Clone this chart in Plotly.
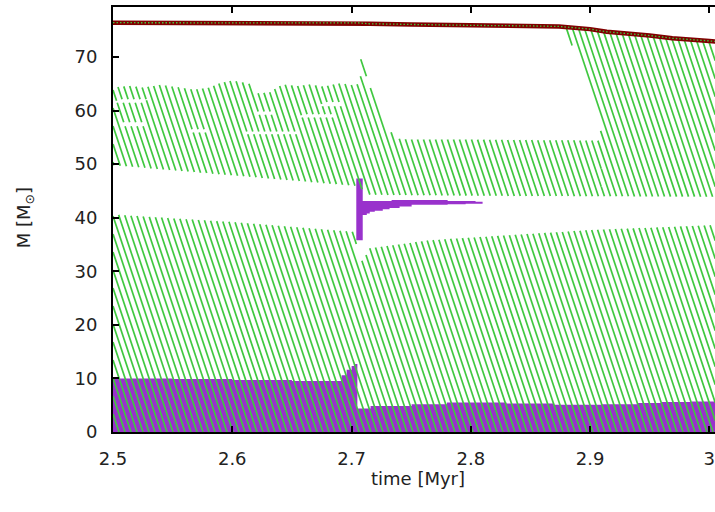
import numpy as np
import plotly.graph_objects as go

# ---- data: time in Myr, mass coordinate in solar masses ----
# stellar surface (total mass)
surf_t = [2.5, 2.6, 2.7, 2.706, 2.715, 2.75, 2.8, 2.85, 2.874, 2.9, 2.914, 2.95, 2.969, 3.0, 3.005]
surf_m = [76.4, 76.4, 76.4, 76.35, 76.2, 76.05, 75.9, 75.8, 75.7, 75.2, 74.7, 74.0, 73.5, 73.0, 72.9]

# convective core: top boundary
core_t = [2.5, 2.6, 2.7, 2.704, 2.7041, 2.7096, 2.7152, 2.7655, 2.8, 2.9, 3.0, 3.005]
core_m = [40.6, 39.2, 37.4, 37.3, 32.0, 32.0, 34.3, 35.8, 36.3, 37.7, 38.6, 38.7]

# outer convective shell: lower boundary
shell_bot_t = [2.5, 2.6, 2.7, 2.704, 2.7096, 2.7128, 2.75, 2.8, 2.9, 3.0, 3.005]
shell_bot_m = [49.8, 47.9, 46.0, 45.9, 45.2, 44.3, 44.2, 44.1, 44.0, 43.9, 43.9]

# outer convective shell: upper boundary (below the radiative pocket)
shell_top_t = [2.500, 2.505, 2.515, 2.525, 2.540, 2.553, 2.567, 2.581, 2.590, 2.600, 2.615,
               2.620, 2.631, 2.642, 2.654, 2.665, 2.676, 2.690, 2.700, 2.7074, 2.7075,
               2.7124, 2.7125, 2.718, 2.726, 2.736, 2.750, 2.800, 2.850, 2.9094]
shell_top_m = [64.0, 64.5, 64.6, 64.3, 64.8, 64.4, 63.9, 64.3, 65.2, 65.6, 65.0,
               63.2, 63.4, 64.9, 64.6, 64.9, 64.5, 65.1, 64.8, 65.0, 69.6,
               69.6, 65.7, 63.2, 58.9, 54.8, 54.6, 54.6, 54.5, 54.4]

# small radiative pockets inside the outer shell
pocket_t0 = [2.503, 2.506, 2.564, 2.612, 2.620, 2.658, 2.675]
pocket_t1 = [2.528, 2.526, 2.578, 2.655, 2.636, 2.686, 2.694]
pocket_lo = [61.5, 57.1, 55.9, 55.6, 59.2, 58.7, 60.8]
pocket_hi = [62.1, 57.8, 56.5, 56.1, 59.8, 59.3, 61.6]

# late envelope convection: lower edge of the zone reaching the surface
env_t = [2.8786, 2.8843, 2.894, 2.904, 2.908, 2.9094, 2.9095, 3.005]
env_m = [75.4, 72.6, 66.4, 62.0, 59.1, 54.4, 40.0, 40.0]

# central nuclear burning region (top boundary, step-wise)
burn_t = [2.5, 2.55, 2.6, 2.65, 2.6917, 2.6959, 2.7001, 2.7026, 2.7049, 2.716,
          2.7504, 2.78, 2.83, 2.87, 2.91, 2.94, 2.96, 2.985, 3.005]
burn_m = [10.0, 9.9, 9.7, 9.5, 10.6, 11.6, 12.3, 12.7, 4.4, 4.85,
          5.2, 5.5, 5.3, 5.1, 5.2, 5.4, 5.6, 5.7, 5.7]

# shell burning episode (step-wise lower/upper edges)
shellburn_t = [2.704, 2.7094, 2.7128, 2.7153, 2.7195, 2.7262, 2.7319, 2.7336, 2.7403,
               2.7504, 2.7806, 2.7957, 2.804, 2.8099]
shellburn_lo = [35.8, 40.5, 40.8, 41.1, 41.3, 41.6, 41.8, 41.8, 42.1,
                42.4, 42.5, 42.6, 42.6, 42.6]
shellburn_hi = [47.3, 43.1, 43.1, 43.1, 43.1, 43.1, 43.1, 43.3, 43.3,
                43.3, 43.1, 43.1, 43.0, 43.0]

x_ticks = [2.5, 2.6, 2.7, 2.8, 2.9, 3.0]
x_tick_labels = ["2.5", "2.6", "2.7", "2.8", "2.9", "3"]
y_ticks = [0, 10, 20, 30, 40, 50, 60, 70]
y_tick_labels = ["0", "10", "20", "30", "40", "50", "60", "70"]

# ---- styling / layout ----
W, H = 715, 512
ML, MR, MT, MB = 113, 0, 7, 80
X_RANGE = [2.5, 3.00478]
Y_RANGE = [0.0, 79.33]
GREEN = "#40c840"
PURPLE = "#9932cc"
DARKRED = "#800000"
FONT = "DejaVu Sans"
FONT_SIZE = 18
TEXT_COLOR = "#222"

px_per_x = (W - ML - MR) / (X_RANGE[1] - X_RANGE[0])
px_per_y = (H - MT - MB) / (Y_RANGE[1] - Y_RANGE[0])


def region(x, y, lo_t, lo_m, hi_t, hi_m, x0, x1):
    lo = np.interp(x, lo_t, lo_m)
    hi = np.interp(x, hi_t, hi_m)
    return (x >= x0) & (x <= x1) & (y >= lo) & (y <= hi)


def in_convective(x, y):
    zero_t, zero_m = [2.0, 4.0], [0.0, 0.0]
    core = region(x, y, zero_t, zero_m, core_t, core_m, 2.5, 3.005)
    shell = region(x, y, shell_bot_t, shell_bot_m, shell_top_t, shell_top_m, 2.5, 2.9094)
    for t0, t1, lo, hi in zip(pocket_t0, pocket_t1, pocket_lo, pocket_hi):
        shell &= ~((x >= t0) & (x <= t1) & (y >= lo) & (y <= hi))
    env_lo = np.maximum(np.interp(x, env_t, env_m), np.interp(x, shell_bot_t, shell_bot_m))
    env = (x >= env_t[0]) & (x <= 3.005) & (y >= env_lo) & (y <= np.interp(x, surf_t, surf_m))
    return core | shell | env


# steep "\" hatching for convective zones, clipped to the zones
spacing_px = 6.0
slope = 3.0  # vertical px per horizontal px
dxdy = -(px_per_y / slope) / px_per_x
ys = np.linspace(Y_RANGE[0], Y_RANGE[1], 3000)
hx, hy = [], []
for c in np.arange(X_RANGE[0], X_RANGE[1] - dxdy * Y_RANGE[1], spacing_px / px_per_x):
    xs = c + dxdy * ys
    inside = in_convective(xs, ys)
    if not inside.any():
        continue
    d = np.diff(inside.astype(int))
    starts = list(np.where(d == 1)[0] + 1)
    ends = list(np.where(d == -1)[0])
    if inside[0]:
        starts = [0] + starts
    if inside[-1]:
        ends = ends + [len(ys) - 1]
    for s, e in zip(starts, ends):
        hx += [xs[s], xs[e], None]
        hy += [ys[s], ys[e], None]

fig = go.Figure()

# central burning region
fig.add_trace(go.Scatter(x=burn_t, y=burn_m, mode="lines", line=dict(width=0, shape="hv"),
                         fill="tozeroy", fillcolor=PURPLE, hoverinfo="skip"))
# shell burning episode
fig.add_trace(go.Scatter(x=shellburn_t, y=shellburn_lo, mode="lines",
                         line=dict(width=0, shape="hv", color=PURPLE), hoverinfo="skip"))
fig.add_trace(go.Scatter(x=shellburn_t, y=shellburn_hi, mode="lines",
                         line=dict(width=0, shape="hv", color=PURPLE),
                         fill="tonexty", fillcolor=PURPLE, hoverinfo="skip"))
# convective hatching
fig.add_trace(go.Scatter(x=hx, y=hy, mode="lines", line=dict(color=GREEN, width=1.7),
                         hoverinfo="skip"))
# surface
fig.add_trace(go.Scatter(x=surf_t, y=surf_m, mode="lines", line=dict(color=DARKRED, width=4.5),
                         hoverinfo="skip"))
fig.add_trace(go.Scatter(x=surf_t, y=surf_m, mode="lines",
                         line=dict(color=GREEN, width=1.3, dash="1.5px,2px"), hoverinfo="skip"))

axis_common = dict(showgrid=False, zeroline=False, ticks="inside", ticklen=6, tickwidth=1.5,
                   tickcolor="black", showline=True, linewidth=2, linecolor="black",
                   tickfont=dict(family=FONT, size=FONT_SIZE, color=TEXT_COLOR))
fig.update_xaxes(range=X_RANGE, tickvals=x_ticks, ticktext=x_tick_labels, mirror="ticks",
                 ticklabelstandoff=9, ticklabeloverflow="allow", **axis_common)
fig.update_yaxes(range=Y_RANGE, tickvals=y_ticks, ticktext=y_tick_labels, mirror=False,
                 ticklabelstandoff=10, **axis_common)

fig.update_layout(
    width=W, height=H, margin=dict(l=ML, r=MR, t=MT, b=MB),
    plot_bgcolor="white", paper_bgcolor="white", showlegend=False,
    annotations=[
        dict(text="time [Myr]", xref="paper", yref="paper", x=0.507, y=-0.11,
             xanchor="center", yanchor="middle", showarrow=False,
             font=dict(family=FONT, size=FONT_SIZE, color=TEXT_COLOR)),
        dict(text="M [M<sub>⊙</sub>]", xref="paper", yref="paper", x=-0.146, y=0.503,
             xanchor="center", yanchor="middle", textangle=-90, showarrow=False,
             font=dict(family=FONT, size=FONT_SIZE, color=TEXT_COLOR)),
    ],
)

fig.write_html("out.html")
